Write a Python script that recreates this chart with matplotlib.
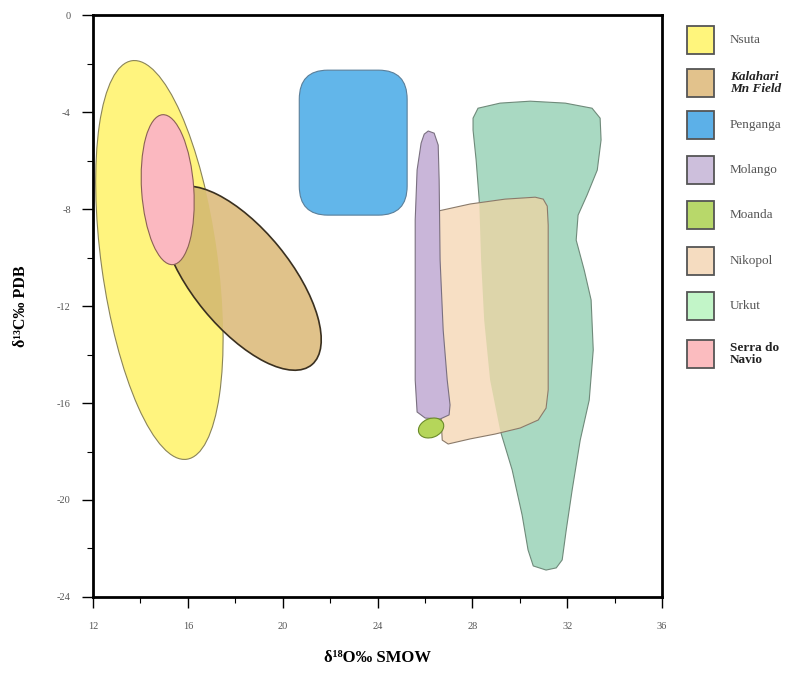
import matplotlib
matplotlib.use('Agg')
import matplotlib.pyplot as plt
from matplotlib.patches import Ellipse, Polygon, FancyBboxPatch, Rectangle
from matplotlib.ticker import MultipleLocator

plt.rcParams['axes.unicode_minus'] = False

# legend entries (name, legend colour)
names = ['Nsuta', 'Kalahari\nMn Field', 'Penganga', 'Molango', 'Moanda',
         'Nikopol', 'Urkut', 'Serra do\nNavio']
legend_colors = ['#fff57c', '#e2c28c', '#5cb0e8', '#cdbfdc', '#b8d86a',
                 '#f5dcc0', '#c2f5c8', '#fbbcbf']

# ellipse fields: centre x, centre y, width, height, angle (deg)
nsuta = (14.8, -10.1, 4.9, 16.6, 8)
kalahari = (18.25, -10.85, 9.3, 4.1, -50)
serra = (15.15, -7.2, 2.2, 6.2, 4)
moanda = (26.26, -17.03, 1.1, 0.78, 20)

# Penganga: x0, x1, y0, y1
penganga = (20.7, 25.25, -8.25, -2.27)

# outlines of the irregular fields (d18O, d13C)
molango_x = [26.14, 26.39, 26.56, 26.60, 26.64, 26.77, 26.94, 27.06, 27.02,
             26.64, 26.01, 25.67, 25.59, 25.59, 25.59, 25.67, 25.84, 25.97]
molango_y = [-4.78, -4.87, -5.36, -6.80, -10.10, -12.99, -15.05, -16.08, -16.49,
             -16.66, -16.62, -16.37, -15.05, -11.75, -8.45, -6.39, -5.28, -4.91]

urkut_x = [28.03, 28.24, 29.17, 30.44, 31.92, 33.05, 33.39, 33.43, 33.27, 32.84,
           32.46, 32.38, 32.72, 33.01, 33.10, 32.93, 32.55, 32.21, 31.96, 31.79,
           31.54, 31.11, 30.57, 30.35, 30.10, 29.68, 29.17, 28.75, 28.50, 28.37,
           28.29, 28.16, 28.03]
urkut_y = [-4.25, -3.84, -3.63, -3.55, -3.63, -3.84, -4.25, -5.15, -6.39, -7.42,
           -8.25, -9.28, -10.52, -11.75, -13.81, -15.88, -17.53, -19.59, -21.24,
           -22.47, -22.80, -22.89, -22.72, -22.06, -20.62, -18.76, -17.11, -15.05,
           -12.58, -10.10, -7.63, -5.98, -4.74]

nikopol_x = [26.56, 27.91, 29.38, 30.65, 30.99, 31.16, 31.20, 31.20, 31.11,
             30.78, 30.02, 28.96, 27.91, 26.98, 26.73, 26.64, 26.60, 26.56]
nikopol_y = [-8.08, -7.79, -7.59, -7.51, -7.59, -7.88, -8.66, -15.46, -16.21,
             -16.70, -17.03, -17.28, -17.48, -17.69, -17.53, -15.88, -11.75, -8.87]

serif = ['Liberation Serif', 'DejaVu Serif']

fig = plt.figure(figsize=(7.95, 6.75), dpi=100)
ax = fig.add_axes([0.117, 0.1156, 0.7157, 0.862])

# Urkut, Nikopol, Molango, Moanda
urkut_patch = Polygon(list(zip(urkut_x, urkut_y)), closed=True, fc='#a9d9c2',
                      ec='#6f8a7a', lw=0.8, zorder=1)
ax.add_patch(urkut_patch)
nik_pts = list(zip(nikopol_x, nikopol_y))
ax.add_patch(Polygon(nik_pts, closed=True, fc='#f7dfc4', ec='none', zorder=2))
# where Nikopol lies over Urkut the colours mix to an olive tan
overlap = Polygon(nik_pts, closed=True, fc='#ddd5aa', ec='none', zorder=2.1)
ax.add_patch(overlap)
overlap.set_clip_path(urkut_patch)
ax.add_patch(Polygon(nik_pts, closed=True, fc='none', ec='#8a7a6a', lw=0.8, zorder=2.2))
ax.add_patch(Polygon(list(zip(molango_x, molango_y)), closed=True, fc='#c9b6d9',
                     ec='#7a7080', lw=0.8, zorder=3))
cx, cy, w, h, a = moanda
ax.add_patch(Ellipse((cx, cy), w, h, angle=a, fc='#b5d65a', ec='#6a8a2a',
                     lw=0.8, zorder=4))

# Penganga
x0, x1, y0, y1 = penganga
ax.add_patch(FancyBboxPatch((x0, y0), x1 - x0, y1 - y0,
                            boxstyle='round,pad=0,rounding_size=1.2',
                            fc='#62b6ea', ec='#5a7f9a', lw=0.8, zorder=1))

# Nsuta, Kalahari, Serra do Navio
cx, cy, w, h, a = nsuta
nsuta_patch = Ellipse((cx, cy), w, h, angle=a, fc='#fff47e', ec='#8a8458',
                      lw=0.8, zorder=1)
ax.add_patch(nsuta_patch)
cx, cy, w, h, a = kalahari
ax.add_patch(Ellipse((cx, cy), w, h, angle=a, fc='#e0c28a', ec='none', zorder=2))
kal_over = Ellipse((cx, cy), w, h, angle=a, fc='#d8bf72', ec='none', zorder=2.1)
ax.add_patch(kal_over)
kal_over.set_clip_path(nsuta_patch)
ax.add_patch(Ellipse((cx, cy), w, h, angle=a, fc='none', ec='#3a3020',
                     lw=1.2, zorder=2.2))
cx, cy, w, h, a = serra
ax.add_patch(Ellipse((cx, cy), w, h, angle=a, fc='#fbb8c0', ec='#8a6055',
                     lw=0.8, zorder=3))

ax.set_xlim(12, 36)
ax.set_ylim(-24, 0)
ax.xaxis.set_major_locator(MultipleLocator(4))
ax.xaxis.set_minor_locator(MultipleLocator(2))
ax.yaxis.set_major_locator(MultipleLocator(4))
ax.yaxis.set_minor_locator(MultipleLocator(2))
ax.tick_params(which='major', direction='out', length=8, width=1, pad=10,
               labelsize=7.5, labelcolor='#555555')
ax.tick_params(axis='y', which='major', pad=8)
ax.tick_params(which='minor', direction='out', length=4, width=0.8)
for lab in ax.get_xticklabels() + ax.get_yticklabels():
    lab.set_family(serif)
for s in ax.spines.values():
    s.set_linewidth(2)

ax.set_xlabel('δ¹⁸O‰ SMOW', family=serif, fontsize=12, fontweight='bold',
              labelpad=14)
ax.set_ylabel('δ¹³C‰ PDB', family=serif, fontsize=11.5, fontweight='bold',
              labelpad=20)

# legend on the right
y_centres = [40, 83, 125, 170, 215, 261, 306, 354]
styles = ['normal', 'italic', 'normal', 'normal', 'normal', 'normal', 'normal', 'normal']
weights = ['normal', 'bold', 'normal', 'normal', 'normal', 'normal', 'normal', 'bold']
for name, col, yc, st, wt in zip(names, legend_colors, y_centres, styles, weights):
    fig.add_artist(Rectangle((687 / 795, 1 - (yc + 14) / 675), 27 / 795, 28 / 675,
                             transform=fig.transFigure, fc=col, ec='#555555', lw=1.3))
    fig.text(730 / 795, 1 - yc / 675, name, family=serif, fontsize=9.5,
             style=st, weight=wt, color='#555555' if wt == 'normal' else '#222222',
             va='center', ha='left', linespacing=0.95)

fig.savefig('out.png', dpi=100)
